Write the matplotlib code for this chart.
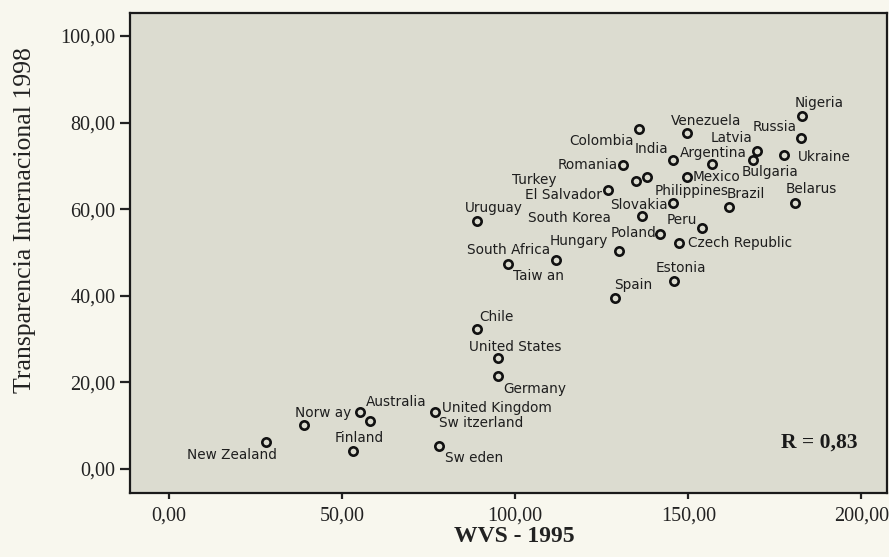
import matplotlib
matplotlib.use("Agg")
import matplotlib.pyplot as plt
from matplotlib.ticker import FuncFormatter

# ---------------- data ----------------
countries = ["Nigeria", "Russia", "Ukraine", "Latvia", "Bulgaria", "Argentina", "India",
             "Venezuela", "Colombia", "Romania", "Mexico", "Turkey", "Philippines",
             "El Salvador", "Slovakia", "Brazil", "Belarus", "South Korea", "Peru", "Poland",
             "Czech Republic", "Hungary", "Estonia", "Uruguay", "Taiw an", "South Africa",
             "Spain", "Chile", "United States", "Germany", "Norw ay", "Australia",
             "Sw itzerland", "United Kingdom", "Sw eden", "Finland", "New Zealand"]
wvs_1995 = [182.8, 182.5, 177.7, 169.8, 168.6, 156.8, 145.7,
            149.6, 135.8, 131.0, 149.7, 134.8, 138.0,
            126.9, 145.7, 161.8, 180.8, 136.7, 153.9, 141.8,
            147.4, 130.0, 146.0, 88.9, 97.8, 111.8,
            128.8, 89.1, 94.9, 94.9, 39.0, 55.2,
            58.1, 76.8, 78.1, 53.2, 27.9]
ti_1998 = [81.6, 76.4, 72.5, 73.4, 71.4, 70.4, 71.4,
           77.5, 78.5, 70.2, 67.4, 66.6, 67.4,
           64.4, 61.4, 60.4, 61.5, 58.4, 55.6, 54.3,
           52.3, 50.3, 43.4, 57.3, 47.3, 48.3,
           39.4, 32.3, 25.6, 21.5, 10.2, 13.1,
           11.2, 13.2, 5.3, 4.2, 6.2]
x_ticks = [0, 50, 100, 150, 200]
y_ticks = [0, 20, 40, 60, 80, 100]
r_text = "R = 0,83"
x_title = "WVS - 1995"
y_title = "Transparencia Internacional 1998"

# label placement relative to each point: (dx px, dy px, horizontal alignment)
label_place = {
    "Nigeria": (17.3, 12.4, "center"), "Russia": (-3.7, 11.6, "right"),
    "Ukraine": (14, -1.7, "left"), "Latvia": (-4.7, 12.7, "right"),
    "Bulgaria": (17.8, -11.7, "center"), "Argentina": (1.3, 11.3, "center"),
    "India": (-5.3, 10.7, "right"), "Venezuela": (18.8, 12.3, "center"),
    "Colombia": (-5.7, -12.4, "right"), "Romania": (-5, 0, "right"),
    "Mexico": (5.7, 0, "left"), "Turkey": (-78.7, 0.7, "right"),
    "Philippines": (8.3, -13.4, "left"), "El Salvador": (-6.6, -5.3, "right"),
    "Slovakia": (-5.3, -1.7, "right"), "Brazil": (-2.3, 13.3, "left"),
    "Belarus": (-9, 13.4, "left"), "South Korea": (-31.6, -2.3, "right"),
    "Peru": (-5, 8.3, "right"), "Poland": (-3.3, 0.7, "right"),
    "Czech Republic": (8.7, 0, "left"), "Hungary": (-11, 10.3, "right"),
    "Estonia": (6.2, 12.7, "center"), "Uruguay": (-11.7, 12.7, "left"),
    "Taiw an": (5.3, -12, "left"), "South Africa": (-6, 10, "right"),
    "Spain": (-1, 13.3, "left"), "Chile": (1.7, 12.6, "left"),
    "United States": (17.6, 11.6, "center"), "Germany": (5.3, -13.3, "left"),
    "Norw ay": (-9, 11.7, "left"), "Australia": (6, 10.6, "left"),
    "Sw itzerland": (69, -2.6, "left"), "United Kingdom": (6.7, 3.4, "left"),
    "Sw eden": (5.7, -12.3, "left"), "Finland": (5.6, 12.4, "center"),
    "New Zealand": (11, -12.7, "right"),
}

# ---------------- figure ----------------
W, H, DPI = 889, 557, 100
fig = plt.figure(figsize=(W / DPI, H / DPI), dpi=DPI, facecolor="#f8f7ee")
left, right, top, bottom = 130, 887, 13, 493
ax = fig.add_axes([left / W, 1 - bottom / H, (right - left) / W, (bottom - top) / H])
ax.set_facecolor("#dcdcd0")

ax.plot(wvs_1995, ti_1998, linestyle="none", marker="o", markersize=6.0,
        markerfacecolor="none", markeredgecolor="#111111", markeredgewidth=1.9, zorder=3)

px2pt = 72.0 / DPI
for name, xv, yv in zip(countries, wvs_1995, ti_1998):
    dx, dy, ha = label_place[name]
    ax.annotate(name, (xv, yv), xytext=(dx * px2pt, dy * px2pt), textcoords="offset points",
                ha=ha, va="center", fontsize=9.8, family="DejaVu Sans", color="#1e1e1e",
                zorder=4)

ax.set_xlim(-11.27, 207.4)
ax.set_ylim(-5.54, 105.3)
ax.set_xticks(x_ticks)
ax.set_yticks(y_ticks)
fmt = FuncFormatter(lambda v, p: f"{v:.2f}".replace(".", ","))
ax.xaxis.set_major_formatter(fmt)
ax.yaxis.set_major_formatter(fmt)
ax.tick_params(axis="x", direction="out", length=4.5, width=1.6, pad=5,
               labelsize=14.5, colors="#222222")
ax.tick_params(axis="y", direction="out", length=7.5, width=1.6, pad=3,
               labelsize=14.5, colors="#222222")
for lab in ax.get_xticklabels() + ax.get_yticklabels():
    lab.set_family("Liberation Serif")
for s in ax.spines.values():
    s.set_linewidth(1.6)
    s.set_color("#1a1a1a")

ax.text(0.911, 0.106, r_text, transform=ax.transAxes, ha="center", va="center",
        fontsize=15.5, fontweight="bold", family="Liberation Serif", color="#1a1a1a")

fig.text(514 / W, 1 - 536 / H, x_title, ha="center", va="center", fontsize=17,
         fontweight="bold", family="Liberation Serif", color="#222222")
fig.text(25 / W, 1 - 220 / H, y_title, ha="center", va="center", rotation=90,
         fontsize=18.5, family="Liberation Serif", color="#222222")

fig.savefig("out.png", dpi=DPI, facecolor=fig.get_facecolor())
